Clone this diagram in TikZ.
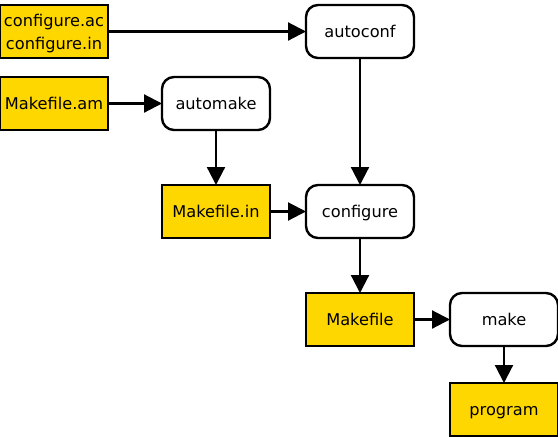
\documentclass[tikz,border=0pt]{standalone}
\usepackage{fontspec}
\setmainfont{DejaVu Sans}
\usetikzlibrary{positioning, arrows.meta}

\definecolor{filegold}{RGB}{255,215,0}

\begin{document}
\begin{tikzpicture}[
    x=1pt, y=1pt,
    file/.style={
        rectangle,
        draw=black, line width=2.4pt,
        fill=filegold,
        align=center,
        minimum width=108pt,
        minimum height=53pt,
        text height=12.8pt, text depth=0pt,
        inner sep=2pt, outer sep=0pt,
        font=\fontsize{16.2}{23}\selectfont
    },
    tool/.style={
        rectangle, rounded corners=12pt,
        draw=black, line width=2.4pt,
        fill=white,
        align=center,
        minimum width=108pt,
        minimum height=53pt,
        text height=12.8pt, text depth=0pt,
        inner sep=2pt, outer sep=0pt,
        font=\fontsize{16.2}{23}\selectfont
    },
    flow/.style={-{Triangle[length=18pt,width=18pt]}, line width=2.2pt}
]
\useasboundingbox (0,0) rectangle (558,-437);

% Inputs
\node[file,text height={}] (confac) at (54,-31.5)
{configure.ac\\configure.in};
\node[file,below=19pt of confac] (makeam) {Makefile.am};

% Autotools
\node[tool,right=198pt of confac] (autoconf) {autoconf};
\node[tool,right=54pt of makeam] (automake) {automake};
\node[file,below=55pt of automake] (makein) {Makefile.in};
\node[tool,right=36pt of makein] (configure) {configure};

% Build
\node[file,below=55pt of configure] (makefile) {Makefile};
\node[tool,right=36pt of makefile] (make) {make};
\node[file,below=37pt of make] (program) {program};

% Connectors
\draw[flow] (confac) -- (autoconf);
\draw[flow] (makeam) -- (automake);
\draw[flow] (automake) -- (makein);
\draw[flow] (makein) -- (configure);
\draw[flow] (autoconf) -- (configure);
\draw[flow] (configure) -- (makefile);
\draw[flow] (makefile) -- (make);
\draw[flow] (make) -- (program);

\end{tikzpicture}
\end{document}
